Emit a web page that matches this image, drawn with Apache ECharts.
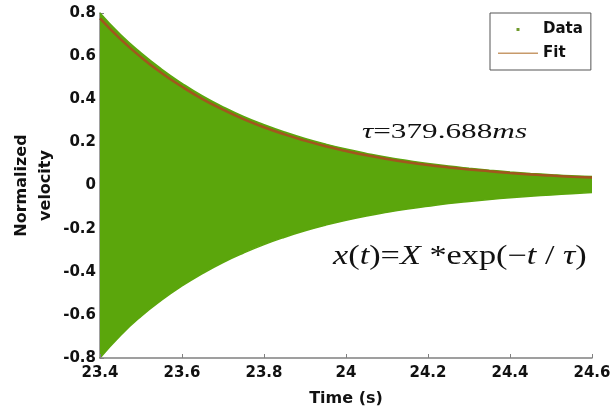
<!DOCTYPE html>
<html><head><meta charset="utf-8">
<script src="https://cdn.jsdelivr.net/npm/echarts@6/dist/echarts.min.js"></script>
<style>html,body{margin:0;padding:0;background:#fff}#c{width:613px;height:412px}</style>
</head><body><div id="c"></div>
<script>
// Time samples (s)
const timeS = [23.40, 23.45, 23.50, 23.55, 23.60, 23.65, 23.70, 23.75, 23.80, 23.85, 23.90, 23.95,
  24.00, 24.05, 24.10, 24.15, 24.20, 24.25, 24.30, 24.35, 24.40, 24.45, 24.50, 24.55, 24.60];
// Upper and lower extent of the measured (dense) data band
const dataUpper = [0.800, 0.700, 0.615, 0.540, 0.474, 0.415, 0.365, 0.320, 0.282, 0.248, 0.218, 0.192,
  0.169, 0.149, 0.131, 0.116, 0.102, 0.090, 0.080, 0.071, 0.063, 0.056, 0.050, 0.045, 0.042];
const dataLower = [-0.800, -0.695, -0.607, -0.532, -0.466, -0.408, -0.357, -0.313, -0.274, -0.240, -0.210, -0.184,
  -0.161, -0.141, -0.124, -0.109, -0.096, -0.084, -0.074, -0.065, -0.057, -0.050, -0.044, -0.038, -0.033];
// Fitted envelope
const fitValues = [0.775, 0.679, 0.595, 0.522, 0.458, 0.401, 0.352, 0.308, 0.270, 0.237, 0.208, 0.182,
  0.160, 0.140, 0.123, 0.108, 0.095, 0.084, 0.074, 0.066, 0.058, 0.051, 0.046, 0.041, 0.037];
const xTickLabels = ['23.4', '23.6', '23.8', '24', '24.2', '24.4', '24.6'];
const yTickLabels = ['-0.8', '-0.6', '-0.4', '-0.2', '0', '0.2', '0.4', '0.6', '0.8'];

const GREEN = '#5ba60c';
const BROWN = '#a2561e';
const pair = (ys) => timeS.map((t, i) => [t, ys[i]]);

const chart = echarts.init(document.getElementById('c'));
const tickFont = { fontFamily: 'DejaVu Sans', fontWeight: 'bold', fontSize: 15, color: '#111' };
chart.setOption({
  animation: false,
  backgroundColor: '#fff',
  grid: { left: 100, right: 21, top: 13, bottom: 54, outerBoundsMode: 'none', containLabel: false },
  xAxis: {
    type: 'value', min: 23.4, max: 24.6, interval: 0.2, z: 5,
    name: 'Time (s)', nameLocation: 'middle', nameGap: 33, nameMoveOverlap: false,
    nameTextStyle: { fontFamily: 'DejaVu Sans', fontWeight: 'bold', fontSize: 16, color: '#111' },
    axisLine: { show: true, onZero: false, lineStyle: { color: '#808080', width: 1.5 } },
    axisTick: { show: true, inside: true, length: 4, lineStyle: { color: '#808080' } },
    splitLine: { show: false },
    axisLabel: Object.assign({ margin: 8, formatter: (v) => {
      const i = Math.round((v - 23.4) / 0.2); return xTickLabels[i] !== undefined ? xTickLabels[i] : ''; } }, tickFont)
  },
  yAxis: {
    type: 'value', min: -0.8, max: 0.8, interval: 0.2,
    name: 'Normalized\nvelocity', nameLocation: 'middle', nameGap: 42, nameRotate: 90, nameMoveOverlap: false,
    nameTextStyle: { fontFamily: 'DejaVu Sans', fontWeight: 'bold', fontSize: 16, color: '#111', lineHeight: 24 },
    axisLine: { show: true, onZero: false, lineStyle: { color: '#808080', width: 1.5 } },
    axisTick: { show: true, inside: true, length: 4, lineStyle: { color: '#808080' } },
    splitLine: { show: false },
    axisLabel: Object.assign({ margin: 4, formatter: (v) => {
      const i = Math.round((v + 0.8) / 0.2); return yTickLabels[i] !== undefined ? yTickLabels[i] : ''; } }, tickFont)
  },
  legend: {
    orient: 'vertical', left: 490, top: 13,
    padding: [9, 8, 9, 8], itemGap: 9, itemWidth: 40, itemHeight: 14,
    backgroundColor: '#fff', borderColor: '#555', borderWidth: 1, borderRadius: 0,
    textStyle: { fontFamily: 'DejaVu Sans', fontWeight: 'bold', fontSize: 15, color: '#111' },
    itemStyle: { borderWidth: 0 },
    data: [
      { name: 'Data', icon: 'path://M0,0M40,14M18.5,5.5h3v3h-3z', itemStyle: { color: '#6f9a2c' } },
      { name: 'Fit', icon: 'path://M0,0M40,14M0,6h40v1.6h-40z', itemStyle: { color: '#c79a6a' } }
    ]
  },
  series: [
    { name: 'Data', type: 'line', data: pair(dataUpper), smooth: true, symbol: 'none', z: 2,
      itemStyle: { color: GREEN }, lineStyle: { color: GREEN, width: 1.5 },
      areaStyle: { color: GREEN, opacity: 1, origin: 'start' } },
    { name: 'Data', type: 'line', data: pair(dataLower), smooth: true, symbol: 'none', z: 3,
      itemStyle: { color: GREEN }, lineStyle: { color: GREEN, width: 1.5 },
      areaStyle: { color: '#ffffff', opacity: 1, origin: 'start' } },
    { name: 'Fit', type: 'line', data: pair(fitValues), smooth: true, symbol: 'none', z: 4,
      itemStyle: { color: BROWN }, lineStyle: { color: BROWN, width: 2.5 } }
  ],
  graphic: [
    { type: 'text', x: 362, y: 132, scaleX: 1.42, z: 10,
      style: { text: '{i|τ}{n|=379.688}{i|ms}', textAlign: 'left', textVerticalAlign: 'middle',
        rich: { i: { fontFamily: 'Liberation Serif', fontStyle: 'italic', fontSize: 22, fill: '#111' },
                n: { fontFamily: 'Liberation Serif', fontSize: 22, fill: '#111' } } } },
    { type: 'text', x: 333, y: 257, scaleX: 1.27, z: 10,
      style: { text: '{i|x}{n|(}{i|t}{n|)=}{i|X}{n| *exp(−}{i|t}{n| / }{i|τ}{n|)}', textAlign: 'left', textVerticalAlign: 'middle',
        rich: { i: { fontFamily: 'Liberation Serif', fontStyle: 'italic', fontSize: 27, fill: '#111' },
                n: { fontFamily: 'Liberation Serif', fontSize: 27, fill: '#111' } } } }
  ]
});
</script></body></html>
